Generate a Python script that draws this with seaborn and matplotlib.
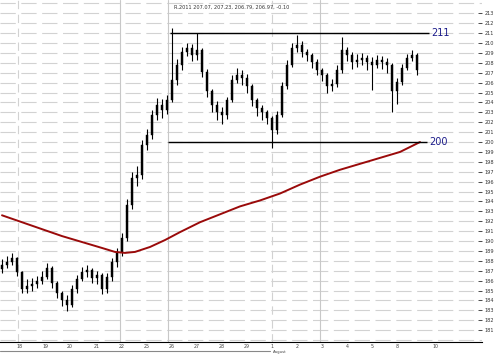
import numpy as np
import pandas as pd
import matplotlib
matplotlib.use("Agg")
import matplotlib.pyplot as plt
import seaborn as sns

# ---------------- data ----------------
closes = [187.6, 187.9, 188.3, 186.9, 185.2, 185.5, 185.7, 186.0, 186.4, 187.3,
          185.8, 184.8, 184.0, 183.5, 185.2, 186.2, 186.9, 187.1, 186.3, 186.6,
          185.2, 186.4, 187.9, 188.9, 190.3, 193.6, 196.4, 196.7, 199.7, 200.7,
          202.7, 203.7, 203.2, 204.2, 206.3, 207.8, 209.1, 209.5, 208.8, 209.3,
          207.1, 205.2, 203.7, 203.0, 202.7, 204.2, 206.3, 206.8, 206.5, 205.7,
          204.2, 203.4, 203.0, 202.4, 201.2, 202.7, 205.7, 207.8, 209.5, 209.8,
          209.1, 208.8, 208.1, 207.3, 206.8, 205.7, 205.9, 207.3, 209.3, 208.8,
          208.1, 208.3, 208.5, 208.1, 207.8, 208.3, 208.1, 207.8, 205.2, 206.1,
          207.5, 208.5, 208.8, 207.3]
highs = [188.2, 188.5, 188.8, 188.4, 187.0, 186.2, 186.3, 186.5, 187.0, 187.8,
         187.5, 186.0, 185.0, 184.5, 185.6, 186.6, 187.4, 187.6, 187.3, 187.0,
         186.8, 186.8, 188.3, 189.3, 190.8, 194.2, 197.0, 197.6, 200.2, 201.3,
         203.2, 204.4, 204.3, 204.8, 211.5, 208.4, 209.6, 210.0, 209.9, 211.0,
         209.5, 207.4, 205.4, 204.1, 203.5, 204.6, 206.8, 207.5, 207.3, 206.9,
         205.9, 204.5, 203.7, 203.2, 202.6, 203.1, 206.1, 208.3, 210.0, 210.8,
         210.2, 209.4, 209.0, 208.4, 207.5, 207.0, 206.4, 207.8, 210.6, 209.6,
         209.1, 208.9, 209.0, 208.8, 208.6, 208.8, 208.7, 208.5, 208.0, 206.5,
         207.9, 208.9, 209.3, 209.0]
lows = [186.8, 187.3, 187.6, 186.5, 184.7, 184.8, 185.0, 185.3, 185.7, 186.2,
        185.3, 184.2, 183.4, 182.9, 183.3, 184.8, 186.0, 186.4, 185.8, 185.7,
        184.6, 184.8, 186.0, 187.4, 188.5, 190.0, 193.2, 195.6, 196.3, 199.2,
        200.3, 202.2, 202.4, 202.8, 204.0, 205.8, 207.3, 208.7, 208.2, 208.3,
        206.6, 204.6, 203.0, 202.2, 201.8, 202.3, 204.0, 206.0, 205.8, 205.0,
        203.6, 202.6, 202.2, 201.8, 199.4, 200.8, 202.5, 205.4, 207.6, 209.1,
        208.6, 208.2, 207.5, 206.8, 206.2, 205.0, 205.2, 205.6, 207.0, 208.2,
        207.4, 207.6, 207.8, 207.3, 205.3, 207.5, 207.4, 207.0, 203.0, 203.8,
        205.8, 207.3, 208.2, 206.8]
first_open = 187.2

ma_x = [0, 4, 8, 12, 16, 20, 22.6, 24.6, 26.6, 29.6, 32.6, 35.6, 39.6, 43.6,
        47.6, 51.6, 55.6, 59.6, 63.6, 67.6, 71.6, 75.6, 79.6, 83.6]
ma_y = [192.6, 191.9, 191.2, 190.5, 189.9, 189.3, 188.9, 188.8, 188.9, 189.4,
        190.1, 190.9, 191.9, 192.7, 193.5, 194.1, 194.8, 195.7, 196.5, 197.2,
        197.8, 198.4, 199.0, 200.0]

levels = [211, 200]
level_start = [33.6, 33.2]
level_end = [85.4, 85.0]

ytick_vals = list(range(181, 214))
xtick_pos = [3.6, 8.6, 13.6, 19.0, 24.0, 29.0, 34.0, 39.0, 44.0, 49.0,
             54.0, 59.0, 64.0, 69.0, 74.0, 79.0, 86.6]
xtick_lab = ["18", "19", "20", "21", "22", "25", "26", "27", "28", "29",
             "1", "2", "3", "4", "5", "8", "10"]
month_lab = "August"
title_txt = "R.2011 207.07, 207.23, 206.79, 206.97, -0.10"

# ---------------- figure ----------------
sns.set_style("white")
plt.rcParams["font.family"] = ["DejaVu Sans"]
plt.rcParams["lines.scale_dashes"] = False

fig = plt.figure(figsize=(5.0, 3.54), dpi=100)
ax = fig.add_axes([0.0, 12 / 354, 482 / 500, 342 / 354])

n = len(closes)
idx = np.arange(n)
opens = [first_open] + closes[:-1]
df = pd.DataFrame({"i": idx, "o": opens, "h": highs, "l": lows, "c": closes})

# grid
grid_c = "#d2d2d2"
for v in range(180, 215):
    ax.axhline(v, color=grid_c, lw=0.8, ls=(0, (11, 4)), zorder=0)
for xv in [23.6, 33.2, 63.6]:
    ax.axvline(xv, color="#c8c8c8", lw=0.8, zorder=0)
for xv in [3.2, 54.0]:
    ax.axvline(xv, color=grid_c, lw=0.8, ls=(0, (6, 4)), zorder=0)

# bars (OHLC/candles)
ax.vlines(df["i"], df["l"], df["h"], color="black", lw=0.8, zorder=3)
body_lo = np.minimum(df["o"], df["c"])
body_h = np.maximum(np.abs(df["c"] - df["o"]), 0.08)
ax.bar(df["i"], body_h, bottom=body_lo, width=0.5, color="black",
       edgecolor="black", linewidth=0.3, zorder=4)

# moving average
ma_df = pd.DataFrame({"x": ma_x, "y": ma_y})
sns.lineplot(data=ma_df, x="x", y="y", ax=ax, color="#9a0a0a", lw=1.4,
             zorder=5, legend=False)

# levels
for lv, s, e in zip(levels, level_start, level_end):
    ax.hlines(lv, s, e, color="black", lw=1.0, zorder=6)
    ax.text(e + 0.5, lv, str(lv), color="#1c1c8a", fontsize=7,
            va="center", ha="left", zorder=7)

ax.text(0.48, 0.985, title_txt, transform=ax.transAxes, fontsize=3.6,
        ha="center", va="top", color="#333333")

ax.set_xlim(-0.4, 96.0)
ax.set_ylim(179.8, 214.35)
ax.set_xlabel("")
ax.set_ylabel("")

for side in ["top", "left", "right"]:
    ax.spines[side].set_visible(False)
ax.spines["bottom"].set_color("black")
ax.spines["bottom"].set_linewidth(0.8)

ax.yaxis.tick_right()
ax.set_yticks(ytick_vals)
ax.set_yticklabels([str(v) for v in ytick_vals], fontsize=3.6, color="#333333")
ax.tick_params(axis="y", direction="in", length=3, width=0.6, pad=2,
               color="#333333")
ax.set_xticks(xtick_pos)
ax.set_xticklabels(xtick_lab, fontsize=3.4, color="#444444")
ax.set_xticks(np.arange(0, 96, 1.0), minor=True)
ax.tick_params(axis="x", which="major", direction="inout", length=3,
               width=0.6, pad=0.2)
ax.tick_params(axis="x", which="minor", direction="inout", length=2,
               width=0.5)

fig.text(273 / 500, 0.2 / 354, month_lab, fontsize=2.8, color="#444444",
         ha="left", va="bottom")
fig.add_artist(plt.Line2D([0, 270 / 500], [3 / 354, 3 / 354],
                          color="#888888", lw=0.8))

fig.savefig("out.png", dpi=100)
